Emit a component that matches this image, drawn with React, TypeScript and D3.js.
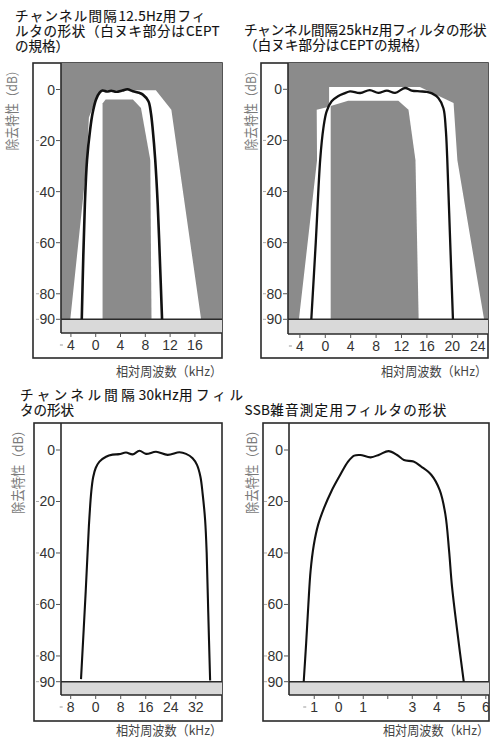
import React from 'react';
import * as d3 from 'd3';

type Pt = [number, number];

// ---- data (kHz, dB) ----
const dbTicks = [0, 20, 40, 60, 80, 90];

const ticks125 = [-4, 0, 4, 8, 12, 16];
const curve125: Pt[] = [
  [-2.25, 90], [-2.0, 65], [-1.75, 45], [-1.4, 27.6], [-0.9, 15.7], [-0.5, 9.2], [0.05, 3.9],
  [0.6, 1.3], [1.1, 0.4], [1.8, 0.8], [2.5, 0.5], [3.3, 0.9], [4.3, 0.4], [5.1, -0.1],
  [6.0, 0.7], [7.0, 1.3], [7.6, 2.0], [8.5, 4.6], [8.9, 9.2], [9.2, 15.7], [9.6, 27.6],
  [10.0, 45], [10.4, 70], [10.7, 90],
];
const ceptOuter125: Pt[] = [
  [-4.1, 90], [-1.5, 30], [-1.1, 11], [-0.3, 6], [0.8, 0.3], [9.7, 0.3], [12.2, 7.9], [17.0, 90],
];
const ceptInner125: Pt[] = [
  [1.1, 90], [1.1, 5.5], [1.6, 3.9], [6.0, 3.9], [7.3, 7.2], [8.8, 27.6], [9.0, 90],
];

const ticks25 = [-4, 0, 4, 8, 12, 16, 20, 24];
const curve25: Pt[] = [
  [-2.2, 90], [-1.5, 60], [-0.8, 27.5], [-0.3, 15.2], [0.2, 8.7], [1.0, 4.7], [2.0, 2.7],
  [3.1, 1.5], [3.9, 0.8], [5.5, 1.45], [7.0, 0.3], [8.35, 1.4], [9.7, 0.5], [11.0, 1.4],
  [12.55, -0.5], [13.6, 0.5], [14.9, 0.8], [16.0, 1.0], [16.8, 1.6], [17.8, 3.4], [18.6, 7.4],
  [18.96, 15.2], [19.2, 27], [19.6, 55], [20.1, 90],
];
const ceptOuter25: Pt[] = [
  [-4.15, 90], [-1.3, 27.8], [-1.35, 8.0], [0.6, 6.8], [0.6, -0.9], [14.9, -0.9], [20.2, 5.4],
  [20.8, 27.8], [25.0, 90],
];
const ceptInner25: Pt[] = [
  [0.85, 90], [0.85, 6.5], [3.6, 4.5], [11.5, 4.5], [13.1, 8], [14.2, 27.8], [14.7, 90],
];

const ticks30 = [-8, 0, 8, 16, 24, 32];
const curve30: Pt[] = [
  [-4.7, 89], [-3.2, 55], [-2.2, 30], [-1.4, 16], [-0.8, 10.5], [0, 7], [1.2, 4.5], [3.3, 2.6],
  [5.4, 1.8], [7.5, 1.6], [9.7, 1.0], [11.8, 1.7], [14.0, 0.3], [16.1, 1.5], [19.3, 0.7],
  [23.0, 1.9], [26.8, 0.9], [28.9, 1.5], [31.0, 3.2], [32.4, 5.8], [33.5, 10.4], [34.2, 16.9],
  [35.0, 27.2], [35.5, 40], [36.0, 63], [36.6, 89.5],
];

const ticksSSB = [-1, 0, 1, 2, 3, 4, 5, 6];
const labelsSSB = ['1', '0', '1', '', '3', '4', '5', '6'];
const curveSSB: Pt[] = [
  [-1.43, 90], [-1.33, 75], [-1.24, 60], [-1.15, 47], [-1.02, 37], [-0.84, 29], [-0.6, 22.5],
  [-0.3, 16], [0.04, 10], [0.38, 4.5], [0.63, 2.2], [0.88, 1.95], [1.3, 2.85], [1.65, 1.8],
  [2.03, 0.45], [2.38, 1.95], [2.66, 3.9], [3.05, 4.5], [3.37, 6.5], [3.78, 9.7], [4.12, 15.6],
  [4.35, 25], [4.5, 39], [4.62, 53], [4.83, 70], [5.1, 90],
];

const titles125 = ['チャンネル間隔12.5Hz用フィ', 'ルタの形状（白ヌキ部分はCEPT', 'の規格）'];
const titles25 = ['チャンネル間隔25kHz用フィルタの形状', '（白ヌキ部分はCEPTの規格）'];
const titles30 = ['チャンネル間隔30kHz用フィル', 'タの形状'];
const titlesSSB = ['SSB雑音測定用フィルタの形状'];
const yLabel = '除去特性（dB）';
const xLabel = '相対周波数（kHz）';

// ---- layout ----
interface PanelDef {
  id: string;
  fx0: number; fy0: number; fx1: number; fy1: number;
  ax: number; ay: number;
  xDom: [number, number];
  y0: number; y90: number;
  ticks: number[];
  tickLabels?: string[];
  curve: Pt[];
  outer?: Pt[];
  inner?: Pt[];
  titles: string[];
  titleX: number; titleY: number; titleW: number[];
  yLabX: number; yLabY: number; yLabLen: number;
  xLabX1: number; xLabY: number;
  sw: number;
}

const panels: PanelDef[] = [
  {
    id: 'p1', fx0: 33, fy0: 63, fx1: 222, fy1: 358, ax: 61, ay: 333, xDom: [-5.6, 20.37],
    y0: 89.5, y90: 319.3, ticks: ticks125, curve: curve125, outer: ceptOuter125, inner: ceptInner125,
    titles: titles125, titleX: 15, titleY: 20.5, titleW: [193, 205, 50],
    yLabX: 17, yLabY: 107.5, yLabLen: 86, xLabX1: 222, xLabY: 376, sw: 2.6,
  },
  {
    id: 'p2', fx0: 261, fy0: 63, fx1: 488, fy1: 358, ax: 288, ay: 334, xDom: [-5.87, 25.62],
    y0: 89.3, y90: 319.3, ticks: ticks25, curve: curve25, outer: ceptOuter25, inner: ceptInner25,
    titles: titles25, titleX: 244, titleY: 35, titleW: [243, 185],
    yLabX: 255.5, yLabY: 107.5, yLabLen: 86, xLabX1: 487, xLabY: 376, sw: 2.3,
  },
  {
    id: 'p3', fx0: 34, fy0: 423, fx1: 222, fy1: 721, ax: 61, ay: 695, xDom: [-11.1, 40.4],
    y0: 450, y90: 681.7, ticks: ticks30, curve: curve30,
    titles: titles30, titleX: 20, titleY: 400, titleW: [225, 52],
    yLabX: 22.5, yLabY: 469, yLabLen: 90, xLabX1: 222, xLabY: 735, sw: 2.1,
  },
  {
    id: 'p4', fx0: 263, fy0: 423, fx1: 489, fy1: 721, ax: 289, ay: 695, xDom: [-2.03, 6.13],
    y0: 450, y90: 681.7, ticks: ticksSSB, tickLabels: labelsSSB, curve: curveSSB,
    titles: titlesSSB, titleX: 244, titleY: 415, titleW: [203],
    yLabX: 256.5, yLabY: 469, yLabLen: 90, xLabX1: 489, xLabY: 735, sw: 2.1,
  },
];

const DARK = '#8b8b8b';
const BAND = '#d9d9d9';
const FRAME = '#2a2a2a';
const NUMFONT = '"Liberation Sans Narrow", "Liberation Sans", Arial, sans-serif';
const JPFONT = '"Noto Sans CJK JP", "Noto Sans", sans-serif';
const TFS = 13.5;

const asciiEm: Record<string, number> = {
  '.': 0.3, H: 0.74, z: 0.5, k: 0.56, S: 0.6, B: 0.66, C: 0.66, E: 0.6, P: 0.64, T: 0.6,
};
function asciiWidth(s: string, fs: number) {
  let w = 0;
  for (const c of s) w += (asciiEm[c] ?? 0.6) * fs;
  return w;
}

function TitleLine({ s, x, y, w }: { s: string; x: number; y: number; w: number }) {
  const runs: { t: string; ascii: boolean }[] = [];
  for (const c of s) {
    const a = c.charCodeAt(0) < 128;
    if (runs.length && runs[runs.length - 1].ascii === a) runs[runs.length - 1].t += c;
    else runs.push({ t: c, ascii: a });
  }
  let aw = 0;
  let cjk = 0;
  runs.forEach(r => { if (r.ascii) aw += asciiWidth(r.t, TFS) + 1.5; else cjk += r.t.length; });
  const sp = Math.max(0, (w - aw - cjk * TFS) / Math.max(1, cjk - 1));
  return (
    <text x={x} y={y} fontFamily={JPFONT} fontSize={TFS} fill="#111" stroke="#111" strokeWidth={0.15}>
      {runs.map((r, i) => (
        <tspan key={i} style={{ letterSpacing: r.ascii ? '0.3px' : `${sp.toFixed(2)}px` }}
          dx={r.ascii ? 0.5 : 0}>{r.t}</tspan>
      ))}
    </text>
  );
}

function Panel({ p }: { p: PanelDef }) {
  const xs = d3.scaleLinear().domain(p.xDom).range([p.ax, p.fx1]);
  const ys = d3.scaleLinear().domain([0, 90]).range([p.y0, p.y90]);
  const curveGen = d3.line<Pt>().x(d => xs(d[0])).y(d => ys(d[1])).curve(d3.curveCatmullRom.alpha(0.5));
  const polyGen = d3.line<Pt>().x(d => xs(d[0])).y(d => ys(d[1])).curve(d3.curveLinearClosed);
  const clipId = 'clip-' + p.id;
  const y90 = ys(90);
  return (
    <g>
      <defs>
        <clipPath id={clipId}>
          <rect x={p.ax} y={p.fy0} width={p.fx1 - p.ax} height={y90 - p.fy0} />
        </clipPath>
      </defs>
      <rect x={p.fx0} y={p.fy0} width={p.fx1 - p.fx0} height={p.fy1 - p.fy0} fill="#fff" stroke={FRAME} strokeWidth={1.6} />
      {p.outer && (
        <g clipPath={`url(#${clipId})`}>
          <rect x={p.ax} y={p.fy0} width={p.fx1 - p.ax} height={y90 - p.fy0} fill={DARK} />
          <path d={polyGen(p.outer) || ''} fill="#fff" />
          <path d={polyGen(p.inner || []) || ''} fill={DARK} />
        </g>
      )}
      <rect x={p.ax} y={y90} width={p.fx1 - p.ax} height={p.ay - y90} fill={BAND} />
      <line x1={p.ax} x2={p.fx1} y1={y90} y2={y90} stroke={FRAME} strokeWidth={1.6} />
      <line x1={p.ax} x2={p.ax} y1={p.fy0} y2={p.ay} stroke={FRAME} strokeWidth={1.6} />
      <line x1={p.ax} x2={p.fx1} y1={p.ay} y2={p.ay} stroke={FRAME} strokeWidth={1.6} />
      {dbTicks.map(t => (
        <g key={'y' + t}>
          <line x1={p.ax - 5} x2={p.ax} y1={ys(t)} y2={ys(t)} stroke="#555" strokeWidth={1} />
          <text x={p.ax - 6} y={ys(t) + 5} textAnchor="end" fontFamily={NUMFONT} fontSize={14} fill="#333">{t}</text>
          {t > 0 && (
            <line x1={p.ax - 25} x2={p.ax - 22} y1={ys(t)} y2={ys(t)} stroke="#aaa" strokeWidth={1} />
          )}
        </g>
      ))}
      {p.ticks.map((t, i) => {
        const lab = p.tickLabels ? p.tickLabels[i] : String(Math.abs(t));
        return (
          <g key={'x' + t}>
            <line x1={xs(t)} x2={xs(t)} y1={p.ay} y2={p.ay + 4} stroke="#555" strokeWidth={1} />
            <text x={xs(t)} y={p.ay + 17} textAnchor="middle" fontFamily={NUMFONT} fontSize={14} fill="#333">{lab}</text>
            {t < 0 && (
              <line x1={xs(t) - 11} x2={xs(t) - 8} y1={p.ay + 12} y2={p.ay + 12} stroke="#999" strokeWidth={1} />
            )}
          </g>
        );
      })}
      <path d={curveGen(p.curve) || ''} fill="none" stroke="#111" strokeWidth={p.sw} strokeLinejoin="round" />
      {p.titles.map((s, i) => (
        <TitleLine key={'t' + i} s={s} x={p.titleX} y={p.titleY + i * 15} w={p.titleW[i]} />
      ))}
      <text transform={`translate(${p.yLabX},${p.yLabY}) rotate(-90)`} textAnchor="middle" fontFamily={JPFONT}
        fontSize={13.5} fill="#7a7a7a" textLength={p.yLabLen} lengthAdjust="spacingAndGlyphs">{yLabel}</text>
      <text x={p.xLabX1} y={p.xLabY} textAnchor="end" fontFamily={JPFONT} fontSize={13} fill="#444"
        textLength={106} lengthAdjust="spacingAndGlyphs">{xLabel}</text>
    </g>
  );
}

export default function App() {
  return (
    <div style={{ position: 'absolute', left: 0, top: 0 }}>
      <svg width={494} height={742} viewBox="0 0 494 742" style={{ display: 'block', background: '#fff' }}>
        {panels.map(p => <Panel key={p.id} p={p} />)}
      </svg>
    </div>
  );
}
